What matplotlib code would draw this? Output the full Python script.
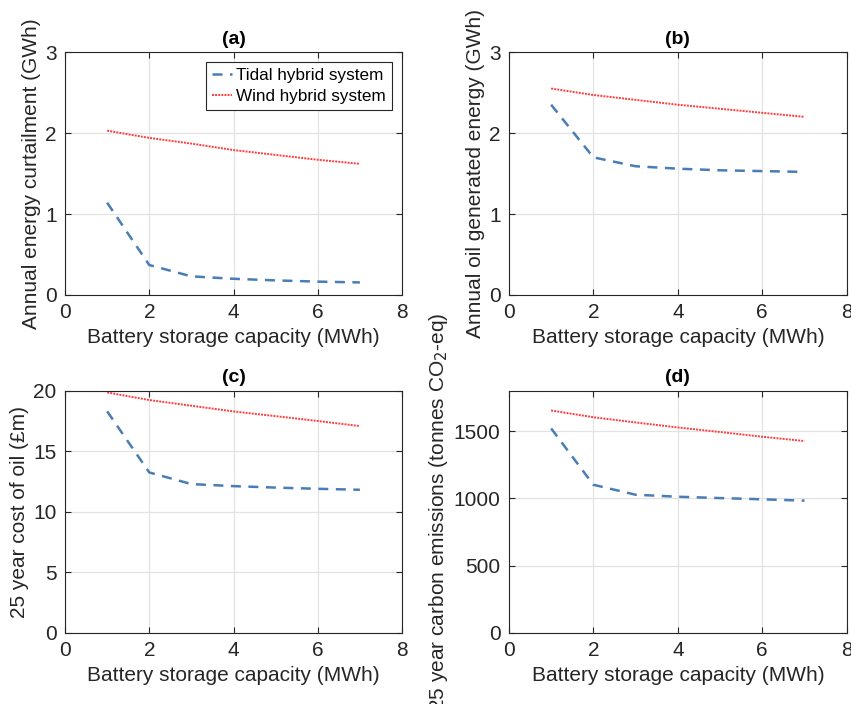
#!/usr/bin/env python3
# Battery storage sweep - tidal vs wind hybrid system, 2x2 panels
import numpy as np
import matplotlib
matplotlib.use('Agg')
from matplotlib import pyplot as plt

plt.rcParams['font.family'] = ['Liberation Sans', 'DejaVu Sans']

##################---------Data---------########################################
capacity = [1, 2, 3, 4, 5, 6, 7]

curtail_tidal = [1.14, 0.37, 0.23, 0.20, 0.18, 0.165, 0.155]
curtail_wind = [2.03, 1.94, 1.87, 1.79, 1.73, 1.67, 1.62]

oil_tidal = [2.35, 1.70, 1.59, 1.56, 1.54, 1.53, 1.52]
oil_wind = [2.55, 2.47, 2.41, 2.35, 2.30, 2.25, 2.20]

cost_tidal = [18.3, 13.25, 12.29, 12.12, 12.0, 11.9, 11.82]
cost_wind = [19.86, 19.23, 18.76, 18.29, 17.9, 17.5, 17.08]

co2_tidal = [1520, 1101, 1027, 1012, 1002, 993, 983]
co2_wind = [1653, 1603, 1564, 1527, 1493, 1458, 1426]

TIDAL_C = '#4a7cb5'
WIND_C = '#ff3b3b'
AX_C = '#262626'

fig = plt.figure(figsize=(8.51, 7.04), dpi=100)

panels = [
    ([0.0764, 0.581, 0.396, 0.345], curtail_tidal, curtail_wind, '(a)',
     'Annual energy curtailment (GWh)', (0, 3), [0, 1, 2, 3]),
    ([0.598, 0.581, 0.397, 0.345], oil_tidal, oil_wind, '(b)',
     'Annual oil generated energy (GWh)', (0, 3), [0, 1, 2, 3]),
    ([0.0764, 0.101, 0.396, 0.344], cost_tidal, cost_wind, '(c)',
     '25 year cost of oil (£m)', (0, 20), [0, 5, 10, 15, 20]),
    ([0.598, 0.101, 0.397, 0.344], co2_tidal, co2_wind, '(d)',
     '25 year carbon emissions (tonnes CO$_2$-eq)', (0, 1800), [0, 500, 1000, 1500]),
]

for i, (pos, tidal, wind, title, ylab, ylim, yticks) in enumerate(panels):
    ax = fig.add_axes(pos)
    ax.plot(capacity, tidal, linestyle=(0, (4, 3)), color=TIDAL_C, lw=1.8,
            label='Tidal hybrid system')
    ax.plot(capacity, wind, linestyle=(0, (1, 0.6)), color=WIND_C, lw=1.4,
            label='Wind hybrid system')
    ax.set_xlim(0, 8)
    ax.set_ylim(*ylim)
    ax.set_xticks([0, 2, 4, 6, 8])
    ax.set_yticks(yticks)
    ax.grid(True, color='#e3e3e3', lw=0.9)
    ax.set_axisbelow(True)
    ax.tick_params(direction='in', top=True, right=True, labelsize=15,
                   colors=AX_C, length=4, pad=6)
    for sp in ax.spines.values():
        sp.set_color(AX_C)
        sp.set_linewidth(0.8)
    ax.set_title(title, fontsize=14, fontweight='bold', color='black', pad=6)
    ax.set_xlabel('Battery storage capacity (MWh)', fontsize=15, color=AX_C, labelpad=4)
    ax.set_ylabel(ylab, fontsize=15, color=AX_C, labelpad=3)
    if i == 0:
        leg = ax.legend(loc='upper right', fontsize=12.3, fancybox=False, framealpha=1,
                        handlelength=1.15, handletextpad=0.25, borderpad=0.35,
                        labelspacing=0.35, borderaxespad=0.6)
        leg.get_frame().set_edgecolor(AX_C)
        leg.get_frame().set_linewidth(0.8)

fig.savefig('out.png', dpi=100)
